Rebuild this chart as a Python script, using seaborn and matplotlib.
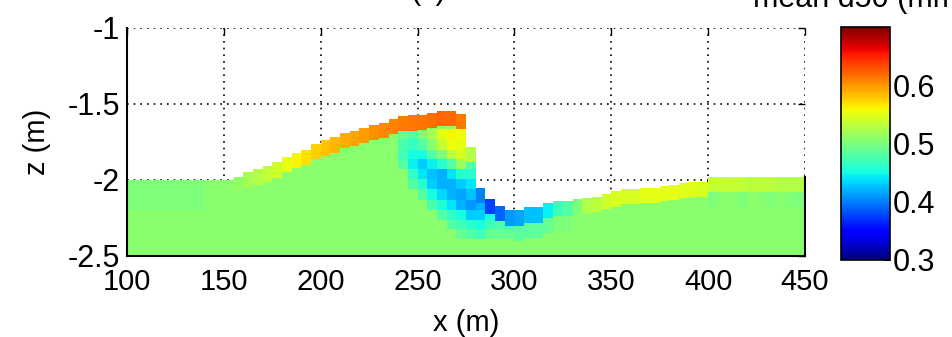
import numpy as np
import pandas as pd
import matplotlib
matplotlib.use("Agg")
import matplotlib.pyplot as plt
import seaborn as sns

sns.set_style("white")
plt.rcParams["font.family"] = ["Liberation Sans", "DejaVu Sans"]
for key in ["text.color", "axes.labelcolor", "xtick.color", "ytick.color"]:
    plt.rcParams[key] = "black"

n = np.nan

# 5 m wide bed columns, left edges from x = 100 m
col_left = list(range(100, 450, 5))

# bed level of each column (m)
bed_z = [
    -2.00, -2.00, -2.00, -2.00, -2.00, -2.00, -2.00, -2.00, -2.00, -2.00,
    -2.00, -1.98, -1.95, -1.93, -1.91, -1.886, -1.85, -1.82, -1.80, -1.765,
    -1.74, -1.72, -1.69, -1.676, -1.66, -1.64, -1.623, -1.60, -1.58, -1.575,
    -1.57, -1.56, -1.545, -1.545, -1.565, -1.78, -2.05, -2.125, -2.17, -2.20,
    -2.20, -2.18, -2.18, -2.15, -2.14, -2.14, -2.125, -2.12, -2.11, -2.09,
    -2.075, -2.06, -2.06, -2.05, -2.05, -2.04, -2.03, -2.02, -2.01, -2.01,
    -1.98, -1.98, -1.98, -1.98, -1.98, -1.98, -1.98, -1.98, -1.98, -1.98,
]

# mean d50 of the surface (active) layer (mm)
top_d50 = [
    0.500, 0.500, 0.500, 0.500, 0.500, 0.500, 0.500, 0.500, 0.507, 0.507,
    0.507, 0.510, 0.520, 0.528, 0.533, 0.540, 0.552, 0.560, 0.568, 0.575,
    0.582, 0.587, 0.590, 0.594, 0.598, 0.602, 0.605, 0.608, 0.611, 0.613,
    0.615, 0.617, 0.620, 0.620, 0.612, 0.525, 0.400, 0.375, 0.390, 0.410,
    0.415, 0.425, 0.425, 0.445, 0.470, 0.480, 0.500, 0.525, 0.530, 0.540,
    0.545, 0.545, 0.545, 0.550, 0.550, 0.550, 0.550, 0.548, 0.547, 0.545,
    0.535, 0.535, 0.535, 0.533, 0.530, 0.532, 0.530, 0.528, 0.525, 0.525,
]

# mean d50 of the first under-layer (mm); nan = substrate
second_d50 = [
    0.500, 0.500, 0.500, 0.500, 0.500, 0.500, 0.500, 0.500, n, n,
    n, n, n, n, n, n, n, n, n, n,
    n, n, n, n, n, n, n, n, n, n,
    n, n, n, n, n, n, n, n, n, n,
    0.485, 0.485, 0.485, 0.490, 0.500, 0.500, n, n, n, n,
    n, n, n, n, n, n, n, n, n, n,
    0.500, 0.507, 0.507, 0.500, 0.507, 0.507, 0.500, 0.507, 0.500, 0.500,
]

substrate_d50 = 0.507

# buried lee-face deposit below the crest (mm), rows from z = -1.60 m downward
lee_col_left = [240, 245, 250, 255, 260, 265, 270, 275, 280, 285, 290, 295]
lee_top_z = -1.60
lee_d50 = [
    [n, 0.490, 0.475, 0.470, 0.480, n, n, n, n, n, n, n, n],
    [n, 0.480, 0.465, 0.450, 0.445, 0.465, 0.480, n, n, n, n, n, n],
    [n, 0.500, 0.480, 0.450, 0.430, 0.440, 0.460, 0.480, n, n, n, n, n],
    [n, 0.520, 0.505, 0.480, 0.445, 0.425, 0.430, 0.450, 0.475, n, n, n, n],
    [n, 0.550, 0.535, 0.500, 0.460, 0.420, 0.420, 0.435, 0.455, 0.480, n, n, n],
    [n, 0.560, 0.555, 0.530, 0.480, 0.440, 0.420, 0.420, 0.440, 0.465, 0.480, n, n],
    [n, 0.555, 0.552, 0.545, 0.515, 0.460, 0.430, 0.415, 0.420, 0.450, 0.470, 0.490, n],
    [n, n, n, 0.525, 0.480, 0.460, 0.440, 0.425, 0.410, 0.430, 0.460, 0.480, n],
    [n, n, n, n, n, n, 0.400, 0.420, 0.420, 0.430, 0.450, 0.470, n],
    [n, n, n, n, n, n, n, 0.400, 0.410, 0.450, 0.470, 0.490, n],
    [n, n, n, n, n, n, n, n, 0.400, 0.440, 0.475, 0.490, n],
    [n, n, n, n, n, n, n, n, n, 0.430, 0.470, 0.490, n],
]

# layer geometry
top_thick = 0.10
lee_dz = 0.066
dx = 5.0
x_min, x_max = 100.0, 450.0
z_top, z_bot = -1.0, -2.5
dz = 0.005  # vertical sampling of the section

z_centers = z_top - (np.arange(int(round((z_top - z_bot) / dz))) + 0.5) * dz
field = np.full((len(z_centers), len(col_left)), np.nan)
for i, x0 in enumerate(col_left):
    zb = bed_z[i]
    lee = lee_d50[lee_col_left.index(x0)] if x0 in lee_col_left else None
    for j, zc in enumerate(z_centers):
        if zc > zb:
            continue
        depth = zb - zc
        if depth < top_thick:
            v = top_d50[i]
        elif depth < 2 * top_thick and not np.isnan(second_d50[i]):
            v = second_d50[i]
        else:
            v = substrate_d50
            if lee is not None:
                k = int((lee_top_z - zc) // lee_dz)
                if 0 <= k < len(lee) and not np.isnan(lee[k]):
                    v = lee[k]
        field[j, i] = v

section = pd.DataFrame(field, index=np.round(z_centers, 4), columns=col_left)

fig = plt.figure(figsize=(9.53, 3.37), dpi=100)
ax = fig.add_axes([0.1333, 0.2404, 0.7114, 0.6766])
cax = fig.add_axes([0.8825, 0.2285, 0.0514, 0.6914])

sns.heatmap(section, cmap="jet", vmin=0.3, vmax=0.7, ax=ax, cbar_ax=cax,
            xticklabels=False, yticklabels=False)

xticks = [100, 150, 200, 250, 300, 350, 400, 450]
yticks = [-1, -1.5, -2, -2.5]
ax.set_xticks([(x - x_min) / dx for x in xticks])
ax.set_xticklabels([str(x) for x in xticks], fontsize=21, rotation=0)
ax.set_yticks([(z_top - z) / dz for z in yticks])
ax.set_yticklabels([f"{z:g}" for z in yticks], fontsize=22, rotation=0)
ax.set_xlim(0, len(col_left))
ax.set_ylim(len(z_centers), 0)

ax.set_axisbelow(True)
ax.grid(True, color="black", linestyle=(0, (1, 3)), linewidth=1.2)
ax.tick_params(direction="in", length=5, width=1, top=True, right=True,
               colors="black")
ax.tick_params(axis="x", pad=9)
ax.tick_params(axis="y", pad=5)
for side in ["left", "bottom"]:
    ax.spines[side].set_visible(True)
    ax.spines[side].set_color("black")
    ax.spines[side].set_linewidth(1.5)
ax.spines["right"].set_visible(True)
ax.spines["right"].set_color("black")
ax.spines["right"].set_linewidth(1.5)
ax.spines["right"].set_bounds((z_top - bed_z[-1]) / dz, len(z_centers))

ax.set_xlabel("x (m)", fontsize=21, labelpad=9, color="black")
ax.set_ylabel("z (m)", fontsize=21, labelpad=12, color="black")

cbar = ax.collections[0].colorbar
cbar.set_ticks([0.3, 0.4, 0.5, 0.6])
cbar.set_ticklabels(["0.3", "0.4", "0.5", "0.6"])
cbar.ax.tick_params(direction="in", length=4, labelsize=22, pad=2,
                    colors="black")
cbar.outline.set_visible(True)
cbar.outline.set_edgecolor("black")
cbar.outline.set_linewidth(1.2)

fig.text(0.449, 1.003, "(c)", fontsize=22, ha="center", va="baseline")
fig.text(0.79, 0.979, "mean d50 (mm)", fontsize=22, ha="left", va="baseline")

fig.savefig("out.png", dpi=100)
